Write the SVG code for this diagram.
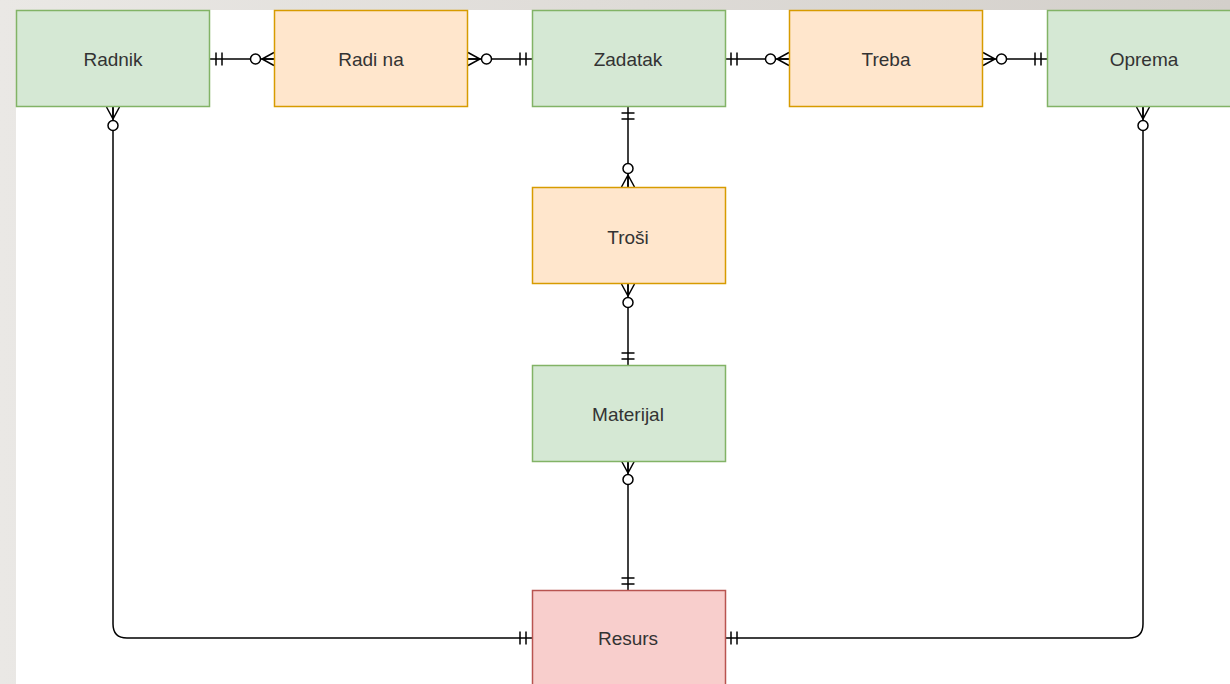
<svg xmlns="http://www.w3.org/2000/svg" width="1230" height="684" viewBox="0 0 1230 684">
  <defs>
    <linearGradient id="bg" x1="0" y1="0" x2="1" y2="0">
      <stop offset="0" stop-color="#eae8e5"/>
      <stop offset="1" stop-color="#d3cfca"/>
    </linearGradient>
    <marker id="one" markerUnits="userSpaceOnUse" orient="auto-start-reverse" refX="0" refY="0" markerWidth="30" markerHeight="30" overflow="visible">
      <path d="M-6,-6.5 V6.5 M-12,-6.5 V6.5" fill="none" stroke="#000" stroke-width="1.5"/>
    </marker>
    <marker id="zeroMany" markerUnits="userSpaceOnUse" orient="auto-start-reverse" refX="0" refY="0" markerWidth="30" markerHeight="30" overflow="visible">
      <path d="M0,-6.5 L-12,0 L0,6.5 M-12,0 H0" fill="none" stroke="#000" stroke-width="1.5"/>
      <circle cx="-18.5" cy="0" r="5" fill="#fff" stroke="#000" stroke-width="1.5"/>
    </marker>
  </defs>
  <style>
    .ent { fill: #d5e8d4; stroke: #82b366; stroke-width: 1.5; }
    .rel { fill: #ffe6cc; stroke: #d79b00; stroke-width: 1.5; }
    .res { fill: #f8cecc; stroke: #b85450; stroke-width: 1.5; }
    text { font-family: "Liberation Sans", Arial, sans-serif; font-size: 19px; fill: #333333; text-anchor: middle; dominant-baseline: central; }
    .conn path { fill: none; stroke: #000; stroke-width: 1.5; }
  </style>
  <rect x="0" y="0" width="1230" height="684" fill="url(#bg)"/>
  <rect x="16" y="10" width="1214" height="674" fill="#ffffff"/>

  <g id="connectors" class="conn">
    <path d="M210,59 H274" marker-start="url(#one)" marker-end="url(#zeroMany)"/>
    <path d="M468,59 H532" marker-start="url(#zeroMany)" marker-end="url(#one)"/>
    <path d="M725,59 H789" marker-start="url(#one)" marker-end="url(#zeroMany)"/>
    <path d="M983,59 H1047" marker-start="url(#zeroMany)" marker-end="url(#one)"/>
    <path d="M628,107 V187" marker-start="url(#one)" marker-end="url(#zeroMany)"/>
    <path d="M628,284 V365" marker-start="url(#zeroMany)" marker-end="url(#one)"/>
    <path d="M628,461 V590" marker-start="url(#zeroMany)" marker-end="url(#one)"/>
    <path d="M113,107 V624 Q113,638 127,638 H532" marker-start="url(#zeroMany)" marker-end="url(#one)"/>
    <path d="M1143,107 V624 Q1143,638 1129,638 H725" marker-start="url(#zeroMany)" marker-end="url(#one)"/>
  </g>

  <g id="radnik"><rect class="ent" x="16.5" y="10.5" width="193" height="96"/><text x="113" y="59">Radnik</text></g>
  <g id="radi-na"><rect class="rel" x="274.5" y="10.5" width="193" height="96"/><text x="371" y="59">Radi na</text></g>
  <g id="zadatak"><rect class="ent" x="532.5" y="10.5" width="193" height="96"/><text x="628" y="59">Zadatak</text></g>
  <g id="treba"><rect class="rel" x="789.5" y="10.5" width="193" height="96"/><text x="886" y="59">Treba</text></g>
  <g id="oprema"><rect class="ent" x="1047.5" y="10.5" width="193" height="96"/><text x="1144" y="59">Oprema</text></g>
  <g id="trosi"><rect class="rel" x="532.5" y="187.5" width="193" height="96"/><text x="628" y="237">Troši</text></g>
  <g id="materijal"><rect class="ent" x="532.5" y="365.5" width="193" height="96"/><text x="628" y="414">Materijal</text></g>
  <g id="resurs"><rect class="res" x="532.5" y="590.5" width="193" height="110"/><text x="628" y="638">Resurs</text></g>
</svg>
